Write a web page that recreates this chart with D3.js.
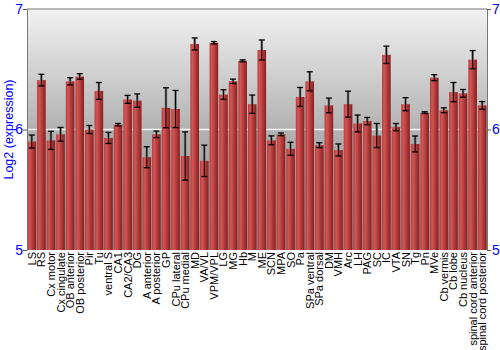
<!DOCTYPE html>
<html>
<head>
<meta charset="utf-8">
<script src="https://cdn.jsdelivr.net/npm/d3@7"></script>
<style>
body { margin: 0; background: #fff; }
svg { display: block; font-family: "Liberation Sans", Arial, sans-serif; }
</style>
</head>
<body>
<svg id="chart" width="500" height="350"></svg>
<script>
// regions, mean log2 expression and error (half length)
var regions = ['LS', 'RS', 'Cx motor', 'Cx cingulate', 'OB anterior', 'OB posterior', 'Pir', 'Tu',
	'ventral S', 'CA1', 'CA2/CA3', 'DG', 'A anterior', 'A posterior', 'GP', 'CPu lateral',
	'CPu medial', 'MD', 'VA/VL', 'VPM/VPL', 'LG', 'MG', 'Hb', 'M', 'ME', 'SCN', 'MPA', 'SO',
	'Pa', 'SPa ventral', 'SPa dorsal', 'DM', 'VMH', 'Arc', 'LH', 'PAG', 'SC', 'IC', 'VTA', 'SN',
	'Tg', 'Pn', 'MVe', 'Cb vermis', 'Cb lobe', 'Cb nucleus', 'spinal cord anterior', 'spinal cord posterior'];
var values = [5.90, 6.41, 5.91, 5.96, 6.40, 6.44, 6.00, 6.32,
	5.93, 6.04, 6.25, 6.24, 5.77, 5.96, 6.18, 6.17,
	5.78, 6.71, 5.74, 6.72, 6.29, 6.40, 6.57, 6.21, 6.66, 5.91, 5.96, 5.84,
	6.27, 6.40, 5.87, 6.20, 5.83, 6.21, 6.05, 6.07, 5.95, 6.62, 6.02, 6.21,
	5.88, 6.14, 6.43, 6.16, 6.31, 6.30, 6.58, 6.20];
var errors = [0.054, 0.048, 0.075, 0.057, 0.03, 0.023, 0.033, 0.07,
	0.046, 0.01, 0.033, 0.055, 0.087, 0.027, 0.166, 0.154,
	0.2, 0.05, 0.13, 0.01, 0.04, 0.018, 0.008, 0.076, 0.083, 0.037, 0.011, 0.054,
	0.079, 0.079, 0.02, 0.061, 0.05, 0.108, 0.07, 0.03, 0.1, 0.072, 0.03, 0.054,
	0.066, 0.007, 0.025, 0.02, 0.08, 0.032, 0.075, 0.032];
var yTicks = [5, 6, 7];

var svg = d3.select('#chart');
var plotL = 27, plotR = 487, plotT = 9, plotB = 250;

var x = d3.scaleBand().domain(regions).range([plotL, plotR]).paddingInner(0.1).paddingOuter(0.05);
var y = d3.scaleLinear().domain([5, 7]).range([plotB, plotT]);

var defs = svg.append('defs');
var bg = defs.append('linearGradient').attr('id', 'bg').attr('x1', 0).attr('y1', 0).attr('x2', 0).attr('y2', 1);
bg.append('stop').attr('offset', '0%').attr('stop-color', '#f2f2f2');
bg.append('stop').attr('offset', '50%').attr('stop-color', '#b2b2b2');
bg.append('stop').attr('offset', '100%').attr('stop-color', '#8e8e8e');

var barGrad = defs.append('linearGradient').attr('id', 'bar').attr('x1', 0).attr('y1', 0).attr('x2', 1).attr('y2', 0);
barGrad.append('stop').attr('offset', '0%').attr('stop-color', '#b83a3a');
barGrad.append('stop').attr('offset', '25%').attr('stop-color', '#d25656');
barGrad.append('stop').attr('offset', '100%').attr('stop-color', '#8a1e1e');

// plot background
svg.append('rect')
	.attr('x', plotL).attr('y', plotT)
	.attr('width', plotR - plotL).attr('height', plotB - plotT)
	.attr('fill', 'url(#bg)');

// white line at 6
svg.append('line')
	.attr('x1', plotL).attr('x2', plotR)
	.attr('y1', y(6)).attr('y2', y(6))
	.attr('stroke', '#f4f4f4').attr('stroke-width', 1.5);

var data = regions.map(function(r, i){
	return {name: r, v: values[i], e: errors[i]};
});

// bars
svg.selectAll('.bar')
	.data(data)
	.enter()
	.append('rect')
	.attr('class', 'bar')
	.attr('x', function(d){ return x(d.name); })
	.attr('y', function(d){ return y(d.v); })
	.attr('width', x.bandwidth())
	.attr('height', function(d){ return plotB - y(d.v); })
	.attr('fill', 'url(#bar)');

// error bars
var eb = svg.selectAll('.err')
	.data(data)
	.enter()
	.append('g')
	.attr('class', 'err')
	.attr('transform', function(d){ return 'translate(' + (x(d.name) + x.bandwidth() / 2) + ',0)'; });
eb.append('line')
	.attr('y1', function(d){ return y(d.v + d.e); })
	.attr('y2', function(d){ return y(d.v); })
	.attr('stroke', '#777').attr('stroke-width', 2.5);
eb.append('line')
	.attr('y1', function(d){ return y(d.v + d.e); })
	.attr('y2', function(d){ return y(d.v - d.e); })
	.attr('stroke', '#000').attr('stroke-width', 1);
eb.append('line')
	.attr('x1', -3).attr('x2', 3)
	.attr('y1', function(d){ return y(d.v + d.e); })
	.attr('y2', function(d){ return y(d.v + d.e); })
	.attr('stroke', '#000').attr('stroke-width', 1.3);
eb.append('line')
	.attr('x1', -3).attr('x2', 3)
	.attr('y1', function(d){ return y(d.v - d.e); })
	.attr('y2', function(d){ return y(d.v - d.e); })
	.attr('stroke', '#000').attr('stroke-width', 1.3);

// top border
svg.append('line')
	.attr('x1', plotL).attr('x2', plotR)
	.attr('y1', plotT).attr('y2', plotT)
	.attr('stroke', '#777').attr('stroke-width', 1);

// axes
var yl = svg.append('g')
	.attr('transform', 'translate(' + plotL + ',0)')
	.call(d3.axisLeft(y).tickValues(yTicks).tickFormat(d3.format('d')).tickSize(4).tickSizeOuter(0));
var yr = svg.append('g')
	.attr('transform', 'translate(' + plotR + ',0)')
	.call(d3.axisRight(y).tickValues(yTicks).tickFormat(d3.format('d')).tickSize(4).tickSizeOuter(0));
[yl, yr].forEach(function(g){
	g.select('.domain').attr('stroke', '#777');
	g.selectAll('.tick line').attr('stroke', '#555');
	g.selectAll('.tick text')
		.attr('fill', '#0000ff')
		.style('font-size', '14px')
		.style('font-family', '"Liberation Sans", Arial, sans-serif');
});
yl.selectAll('.tick text').attr('x', -4);
yr.selectAll('.tick text').attr('x', 5);

// category labels
svg.selectAll('.lab')
	.data(regions)
	.enter()
	.append('text')
	.attr('class', 'lab')
	.attr('transform', function(d){ return 'translate(' + (x(d) + x.bandwidth() / 2 + 4) + ',' + (plotB + 2) + ') rotate(-90)'; })
	.attr('text-anchor', 'end')
	.attr('font-size', '11px')
	.attr('fill', '#000')
	.text(function(d){ return d; });

// y title
svg.append('text')
	.attr('transform', 'translate(13,' + y(6) + ') rotate(-90)')
	.attr('text-anchor', 'middle')
	.attr('font-size', '12.5px')
	.attr('fill', '#0000ff')
	.text('Log2 (expression)');
</script>
</body>
</html>
